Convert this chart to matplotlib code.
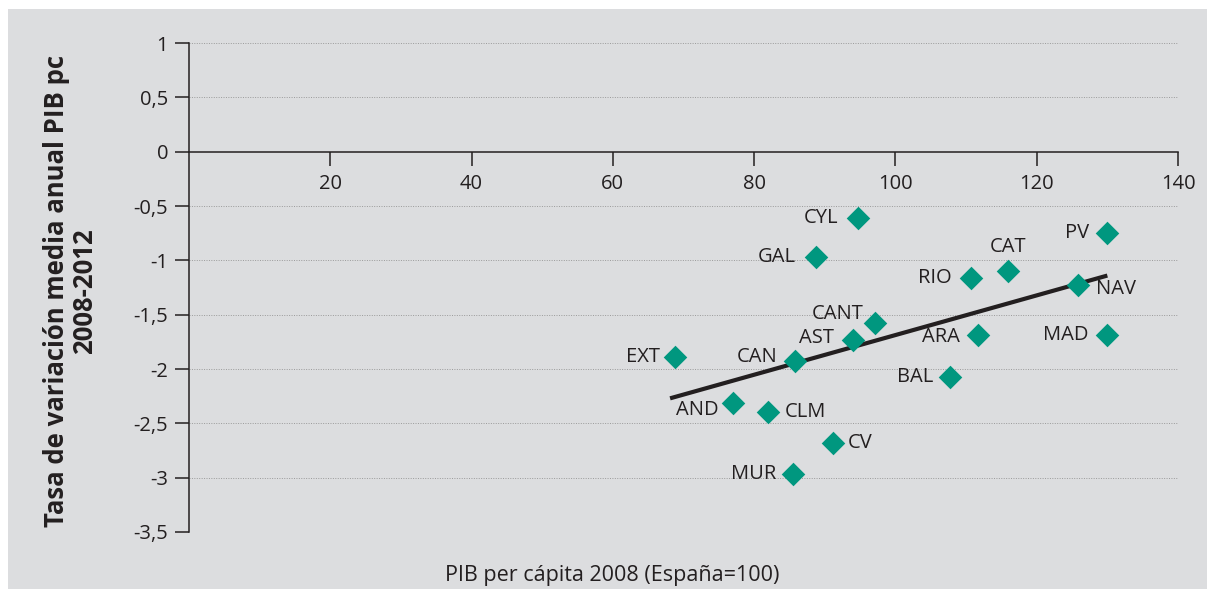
import matplotlib.pyplot as plt
from matplotlib.patches import Rectangle

# Datos: PIB per cápita 2008 (España=100) y tasa de variación media anual 2008-2012
regiones = ["CYL", "GAL", "PV", "CAT", "RIO", "NAV", "CANT", "AST", "ARA",
            "MAD", "EXT", "CAN", "BAL", "AND", "CLM", "CV", "MUR"]
pib_pc_2008 = [94.7, 88.8, 130.0, 115.9, 110.7, 125.8, 97.1, 94.0, 111.7,
               129.9, 68.8, 85.8, 107.7, 77.0, 82.0, 91.1, 85.5]
tasa_var = [-0.61, -0.97, -0.75, -1.10, -1.16, -1.23, -1.58, -1.73, -1.69,
            -1.69, -1.89, -1.93, -2.07, -2.31, -2.40, -2.68, -2.97]

# recta de tendencia (extremos)
tendencia_x = [68.1, 130.0]
tendencia_y = [-2.27, -1.14]

y_ticks = [1, 0.5, 0, -0.5, -1, -1.5, -2, -2.5, -3, -3.5]
y_labels = ["1", "0,5", "0", "-0,5", "-1", "-1,5", "-2", "-2,5", "-3", "-3,5"]
x_ticks = [20, 40, 60, 80, 100, 120, 140]

# posicion de las etiquetas respecto al marcador (puntos)
etiq_pos = {
    "CYL": (-14, 0, "right", "center"), "GAL": (-15, 0, "right", "center"),
    "PV": (-13, 0, "right", "center"), "CAT": (0, 10, "center", "bottom"),
    "RIO": (-14, 0, "right", "center"), "NAV": (13, -3, "left", "center"),
    "CANT": (-8, 7, "right", "center"), "AST": (-14, 1, "right", "center"),
    "ARA": (-13, -1, "right", "center"), "MAD": (-13, 0, "right", "center"),
    "EXT": (-11, 0, "right", "center"), "CAN": (-13, 3, "right", "center"),
    "BAL": (-12, 0, "right", "center"), "AND": (-10, -5, "right", "center"),
    "CLM": (12, 0, "left", "center"), "CV": (11, 0, "left", "center"),
    "MUR": (-12, 0, "right", "center"),
}

plt.rcParams['font.family'] = ['Open Sans', 'DejaVu Sans']
texto = '#231f20'

fig = plt.figure(figsize=(12.07, 5.89), dpi=100, facecolor='white')
fig.patches.append(Rectangle((8 / 1207, 0), 1, 1 - 9 / 589, transform=fig.transFigure,
                             facecolor='#dcdddf', edgecolor='none', zorder=-10))
ax = fig.add_axes([189 / 1207, 1 - 532 / 589, (1178 - 189) / 1207, (532 - 43) / 589])
ax.set_facecolor('none')
ax.set_zorder(5)

ax.set_xlim(0, 140)
ax.set_ylim(-3.5, 1)

for y in y_ticks:
    if y != 0:
        ax.axhline(y, color='#9a9a9a', linestyle=(0, (1, 1.5)), linewidth=0.7, zorder=1)

ax.spines['top'].set_visible(False)
ax.spines['right'].set_visible(False)
ax.spines['bottom'].set_position(('data', 0))
ax.spines['left'].set_position(('data', 0))
for s in ('bottom', 'left'):
    ax.spines[s].set_color(texto)
    ax.spines[s].set_linewidth(1.1)

ax.set_yticks(y_ticks)
ax.set_yticklabels(y_labels)
ax.set_xticks(x_ticks)
ax.tick_params(axis='both', direction='out', length=10, width=1.1, color=texto,
               labelsize=14.5, labelcolor=texto)
ax.tick_params(axis='x', pad=6)
ax.tick_params(axis='y', pad=5)

ax.plot(tendencia_x, tendencia_y, color=texto, linewidth=3, solid_capstyle='butt', zorder=3)
ax.scatter(pib_pc_2008, tasa_var, marker='D', s=12 ** 2, color='#00977f',
           linewidths=0, zorder=4)

for r, x, y in zip(regiones, pib_pc_2008, tasa_var):
    dx, dy, ha, va = etiq_pos[r]
    ax.annotate(r, (x, y), xytext=(dx, dy), textcoords='offset points',
                ha=ha, va=va, fontsize=14.5, color=texto, zorder=5)

fig.text(612 / 1207, 1 - 575 / 589, "PIB per cápita 2008 (España=100)",
         ha='center', va='center', fontsize=15.5, color=texto)
fig.text(71 / 1207, 1 - 291 / 589, "Tasa de variación media anual PIB pc\n2008-2012",
         ha='center', va='center', rotation=90, fontsize=18.5, fontweight='bold',
         color=texto, linespacing=1.05)

fig.savefig('out.png', dpi=100, facecolor='white')
